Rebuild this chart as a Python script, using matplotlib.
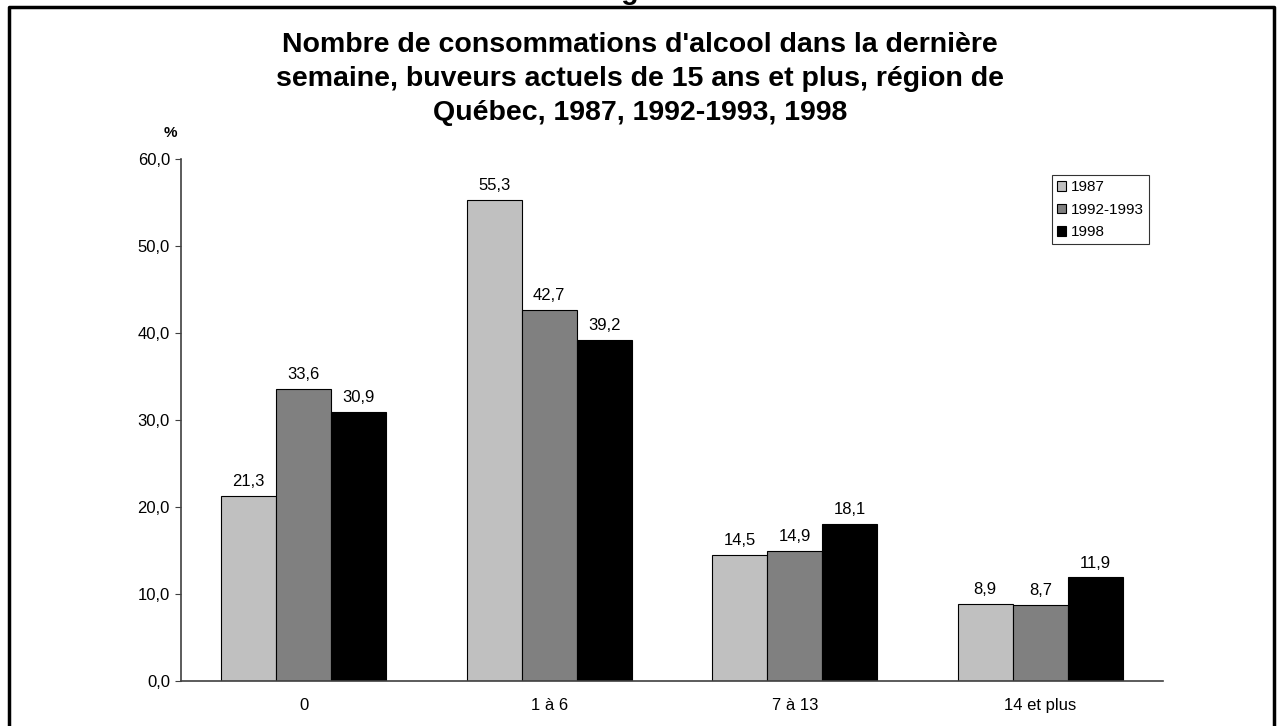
import numpy as np
import matplotlib.pyplot as plt
from matplotlib.lines import Line2D

plt.rcParams['font.family'] = ['Liberation Sans', 'DejaVu Sans']

categories = ['0', '1 à 6', '7 à 13', '14 et plus']
series = ['1987', '1992-1993', '1998']
v1987 = [21.3, 55.3, 14.5, 8.9]
v1992 = [33.6, 42.7, 14.9, 8.7]
v1998 = [30.9, 39.2, 18.1, 11.9]
colors = ['#C0C0C0', '#808080', '#000000']

fig = plt.figure(figsize=(12.78, 7.26), dpi=100)
W, H = 1278, 726
ax = fig.add_axes([181 / W, 1 - 681 / H, (1163 - 181) / W, (681 - 159) / H])

x = np.arange(len(categories))
w = 0.224
for i, (vals, name) in enumerate(zip([v1987, v1992, v1998], series)):
    xs = x + (i - 1) * w
    ax.bar(xs, vals, w, color=colors[i], edgecolor='black', linewidth=0.8, label=name)
    for xx, v in zip(xs, vals):
        ax.text(xx, v + 0.8, ('%.1f' % v).replace('.', ','), ha='center', va='bottom', fontsize=12)

ax.set_xlim(-0.5, 3.5)
ax.set_ylim(0, 60)
ax.set_yticks(np.arange(0, 61, 10))
ax.set_yticklabels([('%.1f' % t).replace('.', ',') for t in np.arange(0, 61, 10)], fontsize=12)
ax.set_xticks(x)
ax.set_xticklabels(categories, fontsize=12)
ax.tick_params(axis='x', length=0, pad=12)
ax.tick_params(axis='y', length=4, pad=4, color='#404040')
for s in ['top', 'right']:
    ax.spines[s].set_visible(False)
for s in ['left', 'bottom']:
    ax.spines[s].set_color('#404040')
    ax.spines[s].set_linewidth(1.2)

leg = ax.legend(loc='upper right', bbox_to_anchor=((1149 - 181) / (1163 - 181), 1 - (175 - 159) / (681 - 159)),
                fontsize=11, frameon=True, fancybox=False, edgecolor='black',
                handlelength=0.6, handleheight=0.6, handletextpad=0.3, borderpad=0.35,
                labelspacing=0.55, borderaxespad=0)
leg.get_frame().set_linewidth(0.8)

fig.text(640 / W, 1 - 79 / H,
         "Nombre de consommations d'alcool dans la dernière\nsemaine, buveurs actuels de 15 ans et plus, région de\nQuébec, 1987, 1992-1993, 1998",
         ha='center', va='center', fontsize=20.5, fontweight='bold', linespacing=1.39)
fig.text(170 / W, 1 - 133 / H, '%', ha='center', va='center', fontsize=11, fontweight='bold')
fig.text(640 / W, 1 + 1 / H, 'Figure', ha='center', va='baseline', fontsize=20.5, fontweight='bold')

fig.add_artist(Line2D([9 / W, 9 / W, 1274 / W, 1274 / W], [0, 1 - 7 / H, 1 - 7 / H, 0],
                      transform=fig.transFigure, color='black', linewidth=2.5))

fig.savefig('out.png', dpi=100)
